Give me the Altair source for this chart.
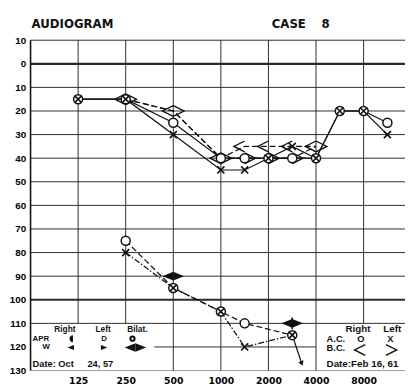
import numpy as np
import pandas as pd
import altair as alt

# ---------------- data ----------------
# Feb 16, 61 test (upper cluster)
ac_freq = [125, 250, 500, 1000, 1500, 2000, 3000, 4000, 6000, 8000, 12000]
ac_right = [15, 15, 25, 40, 40, 40, 40, 40, 20, 20, 25]   # O
ac_left = [15, 15, 30, 45, 45, 40, 35, 40, 20, 20, 30]    # X
bc_freq = [250, 500, 1000, 1500, 2000, 3000, 4000]
bc_right = [15, 20, 40, 35, 35, 35, 35]                    # <
bc_left = [15, 20, 40, 40, 40, 40, 35]                     # >

# Oct 24, 57 test (lower cluster)
old_freq = [250, 500, 1000, 1500, 3000]
old_right = [75, 95, 105, 110, 115]
old_left = [80, 95, 105, 120, 115]
w_bilat_freq = [500, 3000]
w_bilat_db = [90, 110]
nr_freq = [3000, 3250]      # "no response" arrow
nr_db = [115, 127]

y_ticks = list(range(-10, 131, 10))
x_ticks = [125, 250, 500, 1000, 2000, 4000, 8000]

X_MIN, X_MAX = -1.0, 6.87
BLACK = "#111111"


def pos(f):
    """octave position above 125 Hz (half-octave frequencies snap to the midpoint)"""
    p = float(np.log2(f / 125.0))
    h = round(p * 2) / 2
    return h if abs(p - h) < 0.1 else p


def series(freqs, dbs, name):
    return pd.DataFrame({"oct": [pos(f) for f in freqs], "db": dbs,
                         "freq": freqs, "s": name})


xscale = alt.Scale(domain=[X_MIN, X_MAX], nice=False, zero=False)
yscale = alt.Scale(domain=[-10, 130], reverse=True, nice=False, zero=False)
xaxis = alt.Axis(values=[pos(f) for f in x_ticks], labelExpr="'' + 125 * pow(2, datum.value)",
                 title=None, grid=False, domain=False, ticks=False,
                 labelFont="DejaVu Sans", labelFontWeight="bold", labelFontSize=9.5,
                 labelColor="black", labelPadding=5, labelFlush=False, labelOverlap=False)
yaxis = alt.Axis(values=y_ticks, labelExpr="'' + abs(datum.value)",
                 title=None, grid=False, domain=False, ticks=False,
                 labelFont="Liberation Sans", labelFontWeight="bold", labelFontSize=10,
                 labelColor="black", labelPadding=5, labelFlush=False, labelOverlap=False)


def X(field):
    return alt.X(f"{field}:Q", scale=xscale, axis=xaxis)


def Y(field):
    return alt.Y(f"{field}:Q", scale=yscale, axis=yaxis)


# ---------------- grid of the audiogram form ----------------
rows = []
for d in y_ticks:
    x0, x1 = X_MIN, X_MAX
    if d == 120:
        x0, x1 = 1.6, 5.0
    w = 2.2 if d in (0, 100) else 1.0
    c = "#9a9a9a" if d == 130 else "#2a2a2a"
    rows.append(dict(x=x0, x2=x1, y=d, y2=d, w=w, c=c))
for f in x_ticks:
    p = pos(f)
    bottom = 110 if f in (125, 250, 8000) else 130
    rows.append(dict(x=p, x2=p, y=-10, y2=bottom, w=1.0, c="#2a2a2a"))
rows.append(dict(x=X_MIN, x2=X_MIN, y=-10, y2=130, w=1.6, c=BLACK))
grid_df = pd.DataFrame(rows)

grid = alt.Chart(grid_df).mark_rule().encode(
    x=X("x"), x2="x2:Q", y=Y("y"), y2="y2:Q",
    strokeWidth=alt.StrokeWidth("w:Q", scale=None, legend=None),
    color=alt.Color("c:N", scale=None, legend=None),
)

ac_df = pd.concat([series(ac_freq, ac_right, "acR"), series(ac_freq, ac_left, "acL")])
bc_r_df = series(bc_freq, bc_right, "bcR")
bc_l_df = series(bc_freq, bc_left, "bcL")
bc_df = pd.concat([bc_r_df, bc_l_df])
old_r_df = series(old_freq, old_right, "oldR")
old_l_df = series(old_freq, old_left, "oldL")
w_df = series(w_bilat_freq, w_bilat_db, "w")
nr_df = series(nr_freq, nr_db, "nr")
nr_seg = pd.DataFrame({"oct": [nr_df.oct.iloc[0]], "db": [nr_df.db.iloc[0]],
                       "oct2": [nr_df.oct.iloc[1]], "db2": [nr_df.db.iloc[1]]})
nr_end = nr_df.iloc[[1]]

LW = 1.25


def line(df, dash=None):
    kw = dict(color=BLACK, strokeWidth=LW)
    if dash:
        kw["strokeDash"] = dash
    return alt.Chart(df).mark_line(**kw).encode(
        x=X("oct"), y=Y("db"), detail="s:N", order="freq:Q")


lines = [
    line(ac_df),
    line(bc_df, [6, 3]),
    line(old_r_df, [6, 3]),
    line(old_l_df, [6, 2, 1.5, 2]),
    alt.Chart(nr_seg).mark_rule(color=BLACK, strokeWidth=LW).encode(
        x=X("oct"), y=Y("db"), x2="oct2:Q", y2="db2:Q"),
]

LT = "M1,-1L-1,0L1,1"
GT = "M-1,-1L1,0L-1,1"
LT_F = "M1,-0.8L-1,0L1,0.8Z"
GT_F = "M-1,-0.8L1,0L-1,0.8Z"
XSH = "M-0.8,-0.8L0.8,0.8M-0.8,0.8L0.8,-0.8"
HALF_L = "M0.35,-1A1,1 0 0 0 0.35,1Z"


def pts(df, **kw):
    return alt.Chart(df).mark_point(opacity=1, **kw).encode(x=X("oct"), y=Y("db"))


symbols = [
    pts(bc_r_df, shape=LT, filled=False, stroke=BLACK, strokeWidth=1.4, size=121, xOffset=-5.5),
    pts(bc_l_df, shape=GT, filled=False, stroke=BLACK, strokeWidth=1.4, size=121, xOffset=5.5),
    pts(w_df, shape=LT_F, filled=True, fill=BLACK, size=121, xOffset=-5.5),
    pts(w_df, shape=GT_F, filled=True, fill=BLACK, size=121, xOffset=5.5),
    pts(w_df.iloc[[1]], shape="M0,-1L0,1", filled=False, stroke=BLACK, strokeWidth=1.6, size=144),
    pts(pd.concat([series(ac_freq, ac_right, "acR"), old_r_df]), shape="circle", filled=True,
        fill="white", stroke=BLACK, strokeWidth=1.5, size=85),
    pts(pd.concat([series(ac_freq, ac_left, "acL"), old_l_df]), shape=XSH, filled=False,
        stroke=BLACK, strokeWidth=1.7, size=81),
    pts(nr_end, shape="triangle-down", filled=True, fill=BLACK, size=30, angle=340),
]

one = pd.DataFrame({"a": [0]})


def txt(s, x, y, size=9, align="center", font="Liberation Sans", weight="bold"):
    return alt.Chart(one).mark_text(text=s, align=align, baseline="middle", font=font,
                                    fontSize=size, fontWeight=weight, color=BLACK).encode(
        x=alt.value(x), y=alt.value(y))


def sym(shape, x, y, size=121, filled=False, xoff=0, fill=BLACK, sw=1.4):
    kw = dict(shape=shape, size=size, opacity=1, xOffset=xoff)
    if filled:
        kw.update(filled=True, fill=fill)
    else:
        kw.update(filled=False, stroke=BLACK, strokeWidth=sw)
    return alt.Chart(one).mark_point(**kw).encode(x=alt.value(x), y=alt.value(y))


texts = [
    txt("AUDIOGRAM", 1, -16, size=12, align="left", font="DejaVu Sans"),
    txt("CASE", 246, -16, size=12, align="left", font="DejaVu Sans"),
    txt("8", 301, -16, size=12, font="DejaVu Sans"),
    # left legend (Oct 24, 57)
    txt("Right", 35, 295, 8.5), txt("Left", 74, 295, 8.5), txt("Bilat.", 109, 295, 8.5),
    txt("APR", 2, 304.5, 8, align="left"),
    sym(HALF_L, 42, 304.5, size=49, filled=True),
    txt("D", 75, 304.5, 8),
    sym("circle", 104, 304.5, size=40, filled=True),
    sym("circle", 104, 304.5, size=5, filled=True, fill="white"),
    txt("W", 16, 313.5, 8),
    sym(LT_F, 41, 313.5, size=42, filled=True),
    sym(GT_F, 75, 313.5, size=42, filled=True),
    sym(LT_F, 107, 313.5, filled=True, xoff=-5.5), sym(GT_F, 107, 313.5, filled=True, xoff=5.5),
    txt("Date: Oct", 2, 330, 9.5, align="left"), txt("24, 57", 58, 330, 9.5, align="left"),
    # right legend (Feb 16, 61)
    txt("Right", 334, 295, 10), txt("Left", 369, 295, 10),
    txt("A.C.", 302, 305, 9.5, align="left"),
    txt("O", 337, 305, 9.5), txt("X", 367, 305, 9.5),
    txt("B.C.", 302, 314.5, 9.5, align="left"),
    sym(LT, 337, 316, xoff=-1), sym(GT, 367, 316, xoff=1),
    txt("Date:Feb 16, 61", 302, 330, 10, align="left"),
]

chart = alt.layer(grid, *lines, *symbols, *texts).properties(
    width=382, height=337,
    autosize=alt.AutoSizeParams(type="none"),
    padding={"left": 23, "top": 29, "right": 0, "bottom": 17},
    background="white",
).configure_view(stroke=None)

chart.save("out.html", embed_options={"renderer": "svg", "actions": False})
